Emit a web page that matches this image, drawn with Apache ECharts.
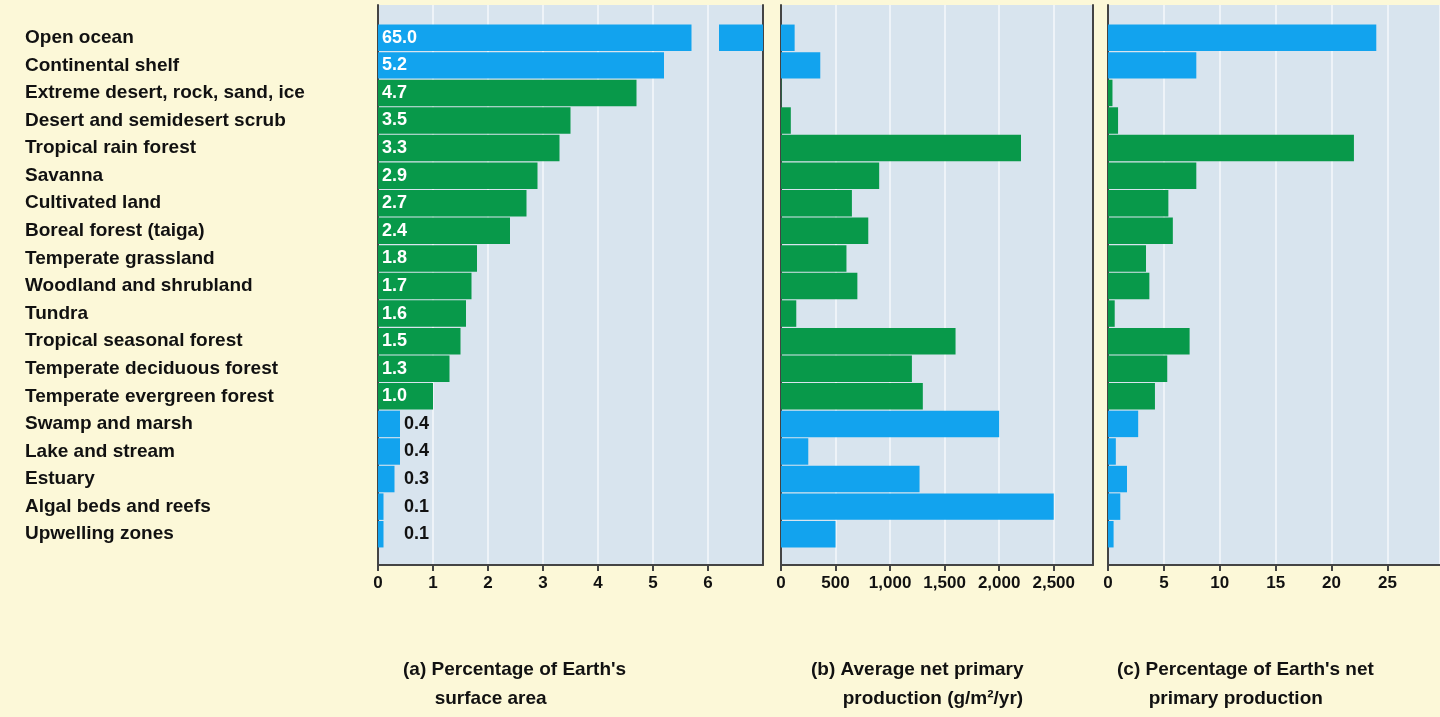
<!DOCTYPE html>
<html><head><meta charset="utf-8">
<script src="https://cdn.jsdelivr.net/npm/echarts@6/dist/echarts.min.js"></script>
<style>html,body{margin:0;background:#fcf8d8}#c{width:1440px;height:717px}</style>
</head><body><div id="c"></div>
<script>
// data
var categories = ['Open ocean', 'Continental shelf', 'Extreme desert, rock, sand, ice', 'Desert and semidesert scrub',
  'Tropical rain forest', 'Savanna', 'Cultivated land', 'Boreal forest (taiga)', 'Temperate grassland',
  'Woodland and shrubland', 'Tundra', 'Tropical seasonal forest', 'Temperate deciduous forest',
  'Temperate evergreen forest', 'Swamp and marsh', 'Lake and stream', 'Estuary', 'Algal beds and reefs', 'Upwelling zones'];
var isLand = [0, 0, 1, 1, 1, 1, 1, 1, 1, 1, 1, 1, 1, 1, 0, 0, 0, 0, 0];
var areaPct = [65.0, 5.2, 4.7, 3.5, 3.3, 2.9, 2.7, 2.4, 1.8, 1.7, 1.6, 1.5, 1.3, 1.0, 0.4, 0.4, 0.3, 0.1, 0.1];
var npp = [125, 360, 3, 90, 2200, 900, 650, 800, 600, 700, 140, 1600, 1200, 1300, 2000, 250, 1270, 2500, 500];
var nppPct = [24.0, 7.9, 0.4, 0.9, 22.0, 7.9, 5.4, 5.8, 3.4, 3.7, 0.6, 7.3, 5.3, 4.2, 2.7, 0.7, 1.7, 1.1, 0.5];
// broken bar for open ocean in panel (a)
var breakStart = 5.7, breakGap = 0.5, breakEnd = 7;

var BLUE = '#12a3ee', GREEN = '#08994a', DARK = '#444';
var cats = categories.slice().reverse();
function col(i) { return isLand[i] ? GREEN : BLUE; }
function rev(arr) { return arr.slice().reverse(); }
var font = '"Liberation Sans", Arial, sans-serif';

var panels = [
  { left: 378, width: 385, max: 7, interval: 1, right: true },
  { left: 781, width: 312, max: 2860, interval: 500, right: true },
  { left: 1108, width: 332, max: 29.7, interval: 5, right: false }
];

var grids = [], xAxes = [], yAxes = [], series = [], barY = [];
panels.forEach(function (p, k) {
  grids.push({ left: p.left, width: p.width, top: 5, height: 560, show: true, backgroundColor: '#d8e4ee', borderWidth: 0 });
  grids.push({ left: p.left, width: p.width, top: 24, height: 524 });
  xAxes.push({ gridIndex: 2 * k, type: 'value', min: 0, max: p.max, interval: p.interval,
    axisLine: { show: true, lineStyle: { color: DARK, width: 2 } },
    axisTick: { show: true, length: 6, lineStyle: { color: DARK, width: 2 } },
    splitLine: { show: true, lineStyle: { color: '#eef3f8', width: 2 } },
    axisLabel: { showMaxLabel: false, color: '#111', fontWeight: 'bold', fontSize: 17, fontFamily: font, margin: 10 } });
  xAxes.push({ gridIndex: 2 * k + 1, type: 'value', min: 0, max: p.max, show: false });
  yAxes.push({ gridIndex: 2 * k, type: 'value', min: 0, max: 1, position: 'left',
    axisLine: { show: true, lineStyle: { color: DARK, width: 2 } }, axisLabel: { show: false },
    axisTick: { show: false }, splitLine: { show: false } });
  if (p.right) {
    yAxes.push({ gridIndex: 2 * k, type: 'value', min: 0, max: 1, position: 'right',
      axisLine: { show: true, lineStyle: { color: DARK, width: 2 } }, axisLabel: { show: false },
      axisTick: { show: false }, splitLine: { show: false } });
  }
  barY.push(yAxes.length);
  yAxes.push({ gridIndex: 2 * k + 1, type: 'category', data: cats,
    axisLine: { show: false }, axisTick: { show: false },
    axisLabel: k === 0 ? { show: true, align: 'left', margin: 353, color: '#111', fontWeight: 'bold', fontSize: 19, fontFamily: font } : { show: false } });
});

// panel (a)
var aData = rev(areaPct).map(function (v, j) {
  var i = categories.length - 1 - j;
  var val = i === 0 ? breakStart : v;
  var lab = v >= 1 ? { show: true, position: 'insideLeft', distance: 4, color: '#fff' }
                   : { show: true, position: [26, '50%'], verticalAlign: 'middle', color: '#111' };
  return { value: val, itemStyle: { color: col(i) }, label: lab };
});
series.push({ type: 'bar', xAxisIndex: 1, yAxisIndex: barY[0], stack: 'a', barCategoryGap: '4%', data: aData,
  label: { formatter: function (p) { return areaPct[categories.length - 1 - p.dataIndex].toFixed(1); },
    fontWeight: 'bold', fontSize: 18, fontFamily: font } });
series.push({ type: 'bar', xAxisIndex: 1, yAxisIndex: barY[0], stack: 'a', barCategoryGap: '4%',
  data: cats.map(function (c, j) { return j === cats.length - 1 ? breakGap : 0; }), itemStyle: { color: 'rgba(0,0,0,0)' } });
series.push({ type: 'bar', xAxisIndex: 1, yAxisIndex: barY[0], stack: 'a', barCategoryGap: '4%',
  data: cats.map(function (c, j) { return j === cats.length - 1 ? breakEnd - breakStart - breakGap : 0; }), itemStyle: { color: BLUE } });

[npp, nppPct].forEach(function (arr, k) {
  series.push({ type: 'bar', xAxisIndex: 2 * (k + 1) + 1, yAxisIndex: barY[k + 1], barCategoryGap: '4%',
    data: rev(arr).map(function (v, j) { return { value: v, itemStyle: { color: col(categories.length - 1 - j) } }; }) });
});

var titleStyle = { color: '#111', fontWeight: 'bold', fontSize: 19, fontFamily: font, lineHeight: 29 };
var option = {
  backgroundColor: '#fcf8d8',
  animation: false,
  grid: grids, xAxis: xAxes, yAxis: yAxes, series: series,
  title: [
    { text: "(a) Percentage of Earth's\n      surface area", left: 398, top: 650, textStyle: titleStyle },
    { text: '(b) Average net primary\n      production (g/m²/yr)', left: 806, top: 650, textStyle: titleStyle },
    { text: "(c) Percentage of Earth's net\n      primary production", left: 1112, top: 650, textStyle: titleStyle }
  ]
};
var myChart = echarts.init(document.getElementById('c'));
myChart.setOption(option);
</script></body></html>
